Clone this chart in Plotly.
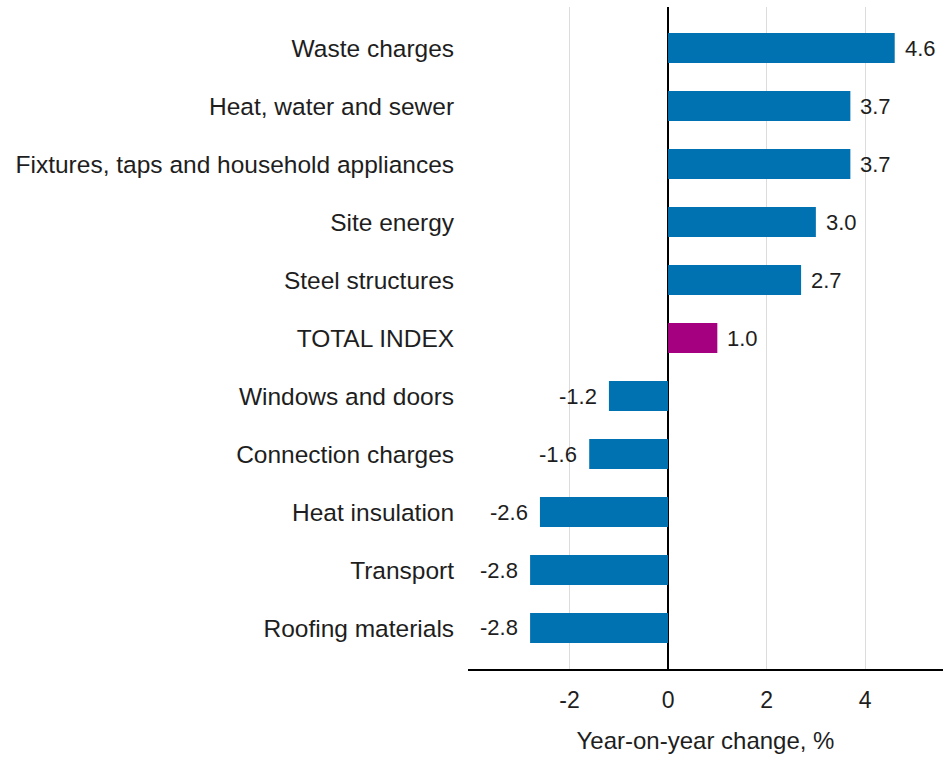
import plotly.graph_objects as go

categories = ["Waste charges", "Heat, water and sewer", "Fixtures, taps and household appliances",
              "Site energy", "Steel structures", "TOTAL INDEX", "Windows and doors",
              "Connection charges", "Heat insulation", "Transport", "Roofing materials"]
values = [4.6, 3.7, 3.7, 3.0, 2.7, 1.0, -1.2, -1.6, -2.6, -2.8, -2.8]
tick_vals = [-2, 0, 2, 4]
tick_text = ["-2", "0", "2", "4"]

BLUE = "#0072b1"
PURPLE = "#a5007f"
colors = [PURPLE if c == "TOTAL INDEX" else BLUE for c in categories]
FONT = "Liberation Sans, Arial, sans-serif"
TXT = "#1e1e1e"

fig = go.Figure()
fig.add_trace(go.Bar(
    y=categories, x=values, orientation="h", width=0.52,
    marker=dict(color=colors, line=dict(width=0)),
    hoverinfo="x+y",
))

for c, v in zip(categories, values):
    fig.add_annotation(
        x=v, y=c, text=f"{v:.1f}", showarrow=False,
        xanchor="left" if v >= 0 else "right",
        xshift=8 if v >= 0 else -10,
        font=dict(family=FONT, size=22, color=TXT),
    )

fig.update_layout(
    width=943, height=758,
    margin=dict(l=468, r=0, t=7, b=89),
    plot_bgcolor="white", paper_bgcolor="white",
    showlegend=False,
    font=dict(family=FONT, color=TXT),
    xaxis=dict(
        range=[-4.06, 5.58],
        tickvals=tick_vals, ticktext=tick_text,
        showgrid=True, gridcolor="#dcdcdc", gridwidth=1,
        zeroline=True, zerolinecolor="#000000", zerolinewidth=1.5,
        showline=True, linecolor="#000000", linewidth=1.5,
        ticks="outside", ticklen=10, tickcolor="rgba(0,0,0,0)",
        tickfont=dict(family=FONT, size=23, color=TXT),
        title=dict(text="Year-on-year change, %", standoff=20,
                   font=dict(family=FONT, size=24, color=TXT)),
        fixedrange=True,
    ),
    yaxis=dict(
        categoryorder="array", categoryarray=categories,
        range=[10.707, -0.707],
        showgrid=False, zeroline=False, showline=False,
        ticks="outside", ticklen=8, tickcolor="rgba(0,0,0,0)",
        tickfont=dict(family=FONT, size=24.5, color=TXT),
        fixedrange=True,
    ),
)

fig.write_html("out.html", config={"displayModeBar": False},
               post_script="document.body.style.margin='0';document.body.style.overflow='hidden';")
